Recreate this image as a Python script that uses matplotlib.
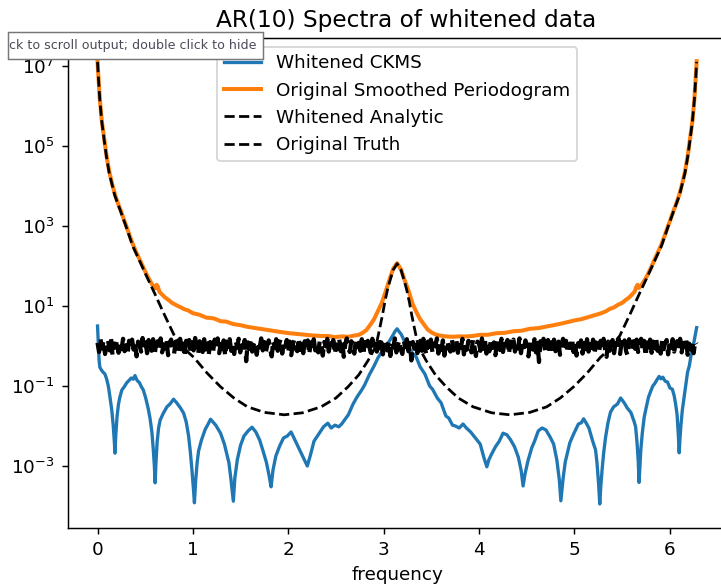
import numpy as np
import matplotlib
matplotlib.use('Agg')
import matplotlib.pyplot as plt
from matplotlib.patches import Rectangle
from matplotlib.lines import Line2D
from matplotlib.ticker import NullLocator

# frequency grid points and log10 of the spectra
truth_freq = [0.0, 0.01, 0.024, 0.045, 0.07, 0.095, 0.122, 0.18, 0.246, 0.30, 0.369, 0.45, 0.527, 0.60,
              0.686, 0.805, 0.90, 1.008, 1.15, 1.29, 1.43, 1.572, 1.75, 1.958, 2.15, 2.345, 2.50, 2.627,
              2.74, 2.838, 2.92, 2.96, 2.99, 3.013, 3.04, 3.065, 3.10, 3.1416,
              3.183, 3.218, 3.243, 3.270, 3.293, 3.323, 3.363, 3.445, 3.543, 3.656, 3.783, 3.938, 4.133,
              4.325, 4.533, 4.711, 4.853, 4.993, 5.133, 5.275, 5.383, 5.478, 5.597, 5.683, 5.756, 5.833,
              5.914, 5.983, 6.037, 6.103, 6.161, 6.188, 6.213, 6.238, 6.259, 6.273, 6.283]
truth_log = [7.10, 6.68, 6.15, 5.60, 5.14, 4.71, 4.33, 3.77, 3.34, 2.98, 2.50, 2.08, 1.68, 1.31,
             0.86, 0.26, -0.05, -0.28, -0.68, -1.02, -1.30, -1.52, -1.66, -1.72, -1.67, -1.52, -1.30, -1.02,
             -0.72, -0.36, 0.0, 0.45, 0.80, 1.10, 1.40, 1.62, 1.90, 2.06,
             1.90, 1.62, 1.40, 1.10, 0.80, 0.45, 0.0, -0.36, -0.72, -1.02, -1.30, -1.52, -1.67,
             -1.72, -1.66, -1.52, -1.30, -1.02, -0.68, -0.28, -0.05, 0.26, 0.86, 1.31, 1.68, 2.08,
             2.50, 2.98, 3.34, 3.77, 4.33, 4.71, 5.14, 5.60, 6.15, 6.68, 7.10]

orig_freq = [0.000, 0.010, 0.024, 0.045, 0.070, 0.095, 0.122, 0.150, 0.180, 0.210, 0.246, 0.275, 0.300,
             0.335, 0.369, 0.410, 0.450, 0.490, 0.527, 0.555, 0.580, 0.605, 0.620, 0.633, 0.650, 0.680,
             0.710, 0.745, 0.780, 0.826, 0.870, 0.910, 0.950, 1.000, 1.070, 1.140, 1.220, 1.290, 1.350,
             1.420, 1.500, 1.570, 1.650, 1.750, 1.840, 1.920, 2.010, 2.100, 2.190, 2.270, 2.350, 2.420,
             2.490, 2.560, 2.630, 2.690, 2.740, 2.780, 2.820, 2.860, 2.900, 2.940, 2.980, 3.020, 3.060,
             3.100, 3.1416,
             3.183, 3.223, 3.263, 3.303, 3.343, 3.383, 3.423, 3.463, 3.503, 3.543, 3.593, 3.653, 3.723,
             3.793, 3.863, 3.933, 4.013, 4.093, 4.183, 4.273, 4.363, 4.443, 4.533, 4.633, 4.713, 4.783,
             4.863, 4.933, 5.003, 5.073, 5.143, 5.213, 5.283, 5.333, 5.373, 5.413, 5.457, 5.503, 5.538,
             5.573, 5.603, 5.633, 5.650, 5.663, 5.678, 5.703, 5.728, 5.756, 5.793, 5.833, 5.873, 5.914,
             5.948, 5.983, 6.008, 6.037, 6.073, 6.103, 6.133, 6.161, 6.188, 6.213, 6.238, 6.259, 6.273,
             6.283]
orig_log = [7.12, 6.70, 6.17, 5.62, 5.17, 4.74, 4.37, 4.08, 3.81, 3.59, 3.37, 3.17, 3.01,
            2.77, 2.55, 2.32, 2.12, 1.91, 1.73, 1.61, 1.51, 1.44, 1.53, 1.48, 1.35, 1.28,
            1.21, 1.15, 1.08, 1.02, 0.97, 0.92, 0.89, 0.82, 0.78, 0.71, 0.69, 0.62, 0.61,
            0.55, 0.52, 0.48, 0.45, 0.41, 0.38, 0.35, 0.32, 0.30, 0.28, 0.26, 0.25, 0.25,
            0.22, 0.24, 0.23, 0.26, 0.28, 0.33, 0.40, 0.53, 0.67, 0.87, 1.07, 1.35, 1.65,
            1.93, 2.07,
            1.91, 1.63, 1.37, 1.06, 0.85, 0.67, 0.54, 0.41, 0.34, 0.29, 0.26, 0.24, 0.23,
            0.24, 0.24, 0.25, 0.28, 0.28, 0.32, 0.33, 0.37, 0.38, 0.43, 0.45, 0.49, 0.52,
            0.56, 0.60, 0.64, 0.67, 0.72, 0.77, 0.82, 0.87, 0.93, 0.96, 1.03, 1.08, 1.15,
            1.21, 1.28, 1.36, 1.48, 1.53, 1.45, 1.52, 1.61, 1.72, 1.90, 2.11, 2.32, 2.54,
            2.76, 3.00, 3.16, 3.36, 3.58, 3.80, 4.07, 4.36, 4.73, 5.16, 5.61, 6.16, 6.69,
            7.12]

ckms_freq = [0.000, 0.008, 0.016, 0.024, 0.040, 0.060, 0.077, 0.095, 0.113, 0.130, 0.150, 0.165, 0.175,
             0.183, 0.192, 0.205, 0.220, 0.235, 0.255, 0.280, 0.306, 0.330, 0.355, 0.375, 0.393, 0.415,
             0.440, 0.460, 0.480, 0.505, 0.530, 0.550, 0.570, 0.585, 0.596, 0.604, 0.612, 0.625, 0.640,
             0.657, 0.690, 0.728, 0.760, 0.797, 0.830, 0.870, 0.903, 0.930, 0.955, 0.974, 0.990, 1.005,
             1.016, 1.028, 1.045, 1.060, 1.090, 1.130, 1.160, 1.185, 1.210, 1.240, 1.290, 1.330, 1.378,
             1.400, 1.424, 1.440, 1.466, 1.500, 1.536, 1.580, 1.620, 1.660, 1.700, 1.730, 1.770, 1.800,
             1.820, 1.840, 1.870, 1.910, 1.950, 1.990, 2.030, 2.070, 2.110, 2.150, 2.180, 2.200, 2.230,
             2.270, 2.320, 2.370, 2.415, 2.450, 2.490, 2.530, 2.560, 2.600, 2.630, 2.680, 2.720, 2.770,
             2.800, 2.850, 2.900, 2.940, 2.980, 3.020, 3.060, 3.100, 3.118, 3.1416,
             3.165, 3.183, 3.223, 3.263, 3.303, 3.343, 3.383, 3.433, 3.483, 3.513, 3.563, 3.603, 3.653,
             3.683, 3.723, 3.753, 3.793, 3.833, 3.868, 3.913, 3.963, 4.013, 4.053, 4.083, 4.103, 4.133,
             4.173, 4.213, 4.253, 4.293, 4.333, 4.373, 4.413, 4.443, 4.463, 4.483, 4.513, 4.553, 4.583,
             4.623, 4.663, 4.703, 4.747, 4.783, 4.817, 4.843, 4.859, 4.883, 4.905, 4.953, 4.993, 5.043,
             5.073, 5.098, 5.123, 5.153, 5.193, 5.223, 5.238, 5.255, 5.267, 5.278, 5.293, 5.309, 5.328,
             5.353, 5.380, 5.413, 5.453, 5.486, 5.523, 5.555, 5.593, 5.626, 5.643, 5.658, 5.671, 5.679,
             5.687, 5.698, 5.713, 5.733, 5.753, 5.778, 5.803, 5.823, 5.843, 5.868, 5.890, 5.908, 5.928,
             5.953, 5.977, 6.003, 6.028, 6.048, 6.063, 6.078, 6.091, 6.100, 6.108, 6.118, 6.133, 6.153,
             6.170, 6.188, 6.206, 6.223, 6.243, 6.259, 6.275, 6.283]
ckms_log = [0.50, 0.10, -0.35, -0.53, -0.60, -0.66, -0.70, -0.82, -1.00, -1.27, -1.62, -2.00, -2.35,
            -2.68, -2.20, -1.75, -1.45, -1.27, -1.10, -1.02, -0.92, -0.86, -0.80, -0.83, -0.74, -0.86,
            -0.92, -1.02, -1.10, -1.30, -1.55, -1.80, -2.15, -2.60, -3.00, -3.42, -2.95, -2.40, -2.05,
            -1.85, -1.68, -1.52, -1.45, -1.33, -1.42, -1.55, -1.68, -1.90, -2.25, -2.67, -3.10, -3.55,
            -3.92, -3.40, -2.90, -2.62, -2.35, -2.08, -1.95, -1.83, -1.90, -1.98, -2.18, -2.45, -2.92,
            -3.35, -3.88, -3.30, -2.84, -2.48, -2.25, -2.12, -2.03, -2.15, -2.35, -2.58, -2.90, -3.25,
            -3.52, -3.10, -2.75, -2.50, -2.30, -2.25, -2.15, -2.35, -2.55, -2.75, -2.90, -3.00, -2.75,
            -2.38, -2.20, -2.02, -1.93, -2.05, -1.98, -2.02, -1.95, -1.82, -1.72, -1.45, -1.28, -1.10,
            -0.98, -0.72, -0.50, -0.30, -0.15, 0.00, 0.12, 0.28, 0.36, 0.43,
            0.35, 0.30, 0.10, -0.02, -0.18, -0.28, -0.52, -0.70, -1.00, -1.08, -1.30, -1.42, -1.75,
            -1.80, -1.98, -2.00, -2.05, -1.95, -2.05, -2.15, -2.30, -2.45, -2.80, -3.02, -2.85, -2.70,
            -2.52, -2.38, -2.18, -2.22, -2.35, -2.52, -2.78, -3.12, -3.50, -3.20, -2.88, -2.55, -2.38,
            -2.12, -2.05, -2.10, -2.28, -2.45, -2.85, -3.35, -3.87, -3.30, -2.90, -2.42, -2.20, -1.95,
            -1.92, -1.82, -1.92, -2.05, -2.38, -2.60, -2.92, -3.45, -3.95, -3.50, -3.05, -2.65, -2.28,
            -1.92, -1.65, -1.52, -1.45, -1.30, -1.42, -1.55, -1.66, -1.88, -2.02, -2.42, -2.90, -3.41,
            -3.05, -2.58, -2.18, -1.78, -1.55, -1.28, -1.12, -1.00, -0.94, -0.84, -0.76, -0.82, -0.78,
            -0.88, -0.90, -1.05, -1.08, -1.25, -1.46, -1.72, -2.22, -2.67, -2.32, -1.98, -1.60, -1.25,
            -0.95, -0.65, -0.50, -0.25, -0.05, 0.15, 0.35, 0.46]

# whitened periodogram, log10 in hundredths, spread evenly over 0..2pi
white_log100 = [8, -15, 17, -6, 12, -20, 3, 15, -11, 19, -24, 6, -3, 14, -17, 10, -8, 18, -13, 2,
                -21, 13, -5, 16, -9, 7, -26, 11, 1, -14, 20, -7, 9, -18, 15, -2, -12, 17, -22, 5,
                12, -10, 19, -16, 4, -6, 14, -23, 8, 16, -4, -19, 11, 2, -13, 18, -8, 6, -27, 13,
                -3, 15, -17, 9, -11, 20, -5, -21, 12, 3, -15, 17, -9, 7, -24, 10, 1, -13, 16, -6,
                19, -18, 5, -8, 14, -25, 11, -2, 17, -12, 6, -20, 13, -4, 18, -16, 2, -10, 15, -38,
                9, -7, 16, -14, 4, 12, -22, 7, -3, 19, -11, 10, -17, 1, 14, -9, -26, 13, -5, 17,
                -12, 6, 18, -19, 8, -2, 15, -15, 11, -23, 3, 16, -7, -13, 20, -10, 5, -18, 12, -4,
                14, -21, 9, -6, 17, -11, 2, -16, 13, 6, -24, 10, -1, 18, -14, 7, -9, 15, -20, 4,
                -8, 16, -13, 11, -27, 5, 19, -5, -15, 12, 1, -19, 14, -3, 8, -12, 17, -22, 10, -7,
                13, -2, -17, 18, -10, 6, -14, 15, -6, 9, -21, 3, 16, -11, 11, -25, 7, -4, 19, -16,
                2, 14, -9, -20, 12, -3, 17, -13, 8, -36, 10, -7, 15, -18, 4, 13, -12, 18, -5, -22,
                11, -8, 16, -15, 6, -1, 19, -19, 9, -10, 14, -24, 5, 12, -6, -14, 17, -11, 3, 15,
                -17, 8, -4, 18, -21, 10, -9, 13, 1, -16, 16, -2, -25, 11, 7, -12, 19, -7, 14, -19,
                4, -13, 17, -5, 9, -23, 12, 2, -10, 18, -15, 6, -8, 15, -20, 11, -1, 16, -14, 7,
                -6, 19, -18, 10, -3, 14, -11, -26, 13, 5, -9, 17, -16, 8, -40, 12, -4, 18, -12, 3,
                15, -20, 9, -7, 16, -13, 6, 11, -22, 2, 18, -10, 13, -17, 4, -5, 19, -15, 10, -24,
                7, -2, 14, -19, 12, -8, 17, -14, 5, -11, 16, -21, 9, 1, -16, 13, -6, 18, -9, -27,
                11, -12, 6, 15, -18, 8, -4, 19, -20, 10, -1, 14, -13, -23, 17, 3, -10, 12, -7, 16,
                -15, 5, 18, -9, 13, -25, 9, -3, 16, -17, 11, -6, 20, -12, 2, -19, 14, -8, 7, 15,
                -21, 10, -5, 17, -14, 4, 12, -11, 18, -16, 8, -2, 15, -22, 6, -9, 13, -18, 11, 5]
white_freq = np.linspace(0, 2 * np.pi, len(white_log100))

dpi = 132
fig = plt.figure(figsize=(721 / dpi, 584 / dpi), dpi=dpi)
ax = fig.add_axes([67.6 / 721, 56 / 584, 659 / 721, 490 / 584])

l1, = ax.plot(ckms_freq, 10 ** np.array(ckms_log), color='C0', lw=1.8, label='Whitened CKMS')
l2, = ax.plot(orig_freq, 10 ** np.array(orig_log), color='C1', lw=2.2, label='Original Smoothed Periodogram')
# the dense noisy trace reads as a thick band, so draw it a bit heavier
ax.plot(white_freq, 10 ** (np.array(white_log100) / 100), 'k--', lw=2.3)
l4, = ax.plot(truth_freq, 10 ** np.array(truth_log), 'k--', lw=1.5, label='Original Truth')
l3 = Line2D([], [], color='k', ls='--', lw=1.5, label='Whitened Analytic')

ax.set_yscale('log')
ax.set_ylim(10 ** -4.55, 10 ** 7.7)
ax.set_xlim(-0.314, 2 * np.pi + 0.314)
ax.set_yticks([1e-3, 1e-1, 1e1, 1e3, 1e5, 1e7])
ax.yaxis.set_minor_locator(NullLocator())
ax.set_xlabel('frequency')
ax.set_title('AR(10) Spectra of whitened data', fontsize=12.7, x=0.513)
ax.legend(handles=[l1, l2, l3, l4], loc='upper center')

# notebook tooltip that sits over the top left of the screenshot
fig.add_artist(Rectangle((8 / 721, (584 - 59) / 584), 255 / 721, 27 / 584, transform=fig.transFigure,
                         facecolor='white', edgecolor='#777777', lw=0.8, zorder=10))
fig.text(9 / 721, (584 - 46) / 584, 'ck to scroll output; double click to hide', fontsize=6.9,
         color='#4b4b5b', va='center', ha='left', zorder=11)

fig.savefig('out.png', dpi=dpi)
